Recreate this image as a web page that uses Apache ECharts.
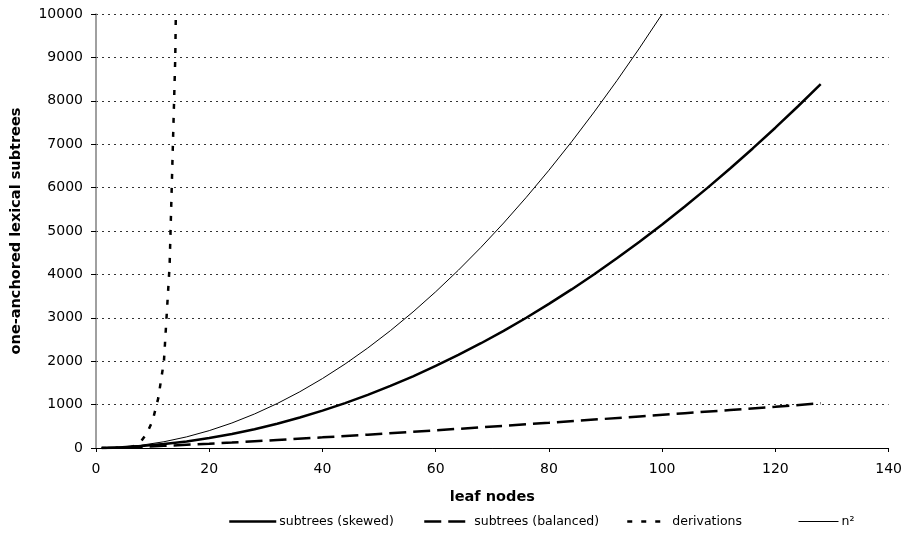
<!DOCTYPE html>
<html>
<head>
<meta charset="utf-8">
<script src="https://cdn.jsdelivr.net/npm/echarts@6/dist/echarts.min.js"></script>
<style>
  html, body { margin: 0; padding: 0; background: #fff; }
  #chart { width: 905px; height: 540px; }
</style>
</head>
<body>
<div id="chart"></div>
<script>
// Number of one-anchored lexical subtrees against the number of leaf nodes.
const skewedLeaves = [1, 2, 4, 8, 12, 16, 20, 24, 28, 32, 36, 40, 44, 48, 52, 56, 60, 64, 68, 72, 76, 80, 84, 88, 92, 96, 100, 104, 108, 112, 116, 120, 124, 128];
const skewedValues = [2, 5, 14, 44, 90, 152, 230, 324, 434, 560, 702, 860, 1034, 1224, 1430, 1652, 1890, 2144, 2414, 2700, 3002, 3320, 3654, 4004, 4370, 4752, 5150, 5564, 5994, 6440, 6902, 7380, 7874, 8384];

const balancedLeaves = [1, 2, 4, 8, 12, 16, 20, 24, 28, 32, 40, 48, 56, 64, 72, 80, 88, 96, 104, 112, 120, 128];
const balancedValues = [0, 2, 9, 28, 50, 74, 99, 126, 155, 184, 245, 307, 373, 442, 511, 582, 654, 727, 801, 876, 951, 1030];

const derivLeaves = [1, 2, 3, 4, 5, 6, 7, 8, 9, 10, 11, 12, 13, 14, 15];
const derivValues = [1, 1, 2, 4, 8, 15, 60, 160, 340, 630, 1150, 2000, 4200, 9000, 19000];

const squareLeaves = [1, 2, 4, 8, 12, 16, 20, 24, 28, 32, 36, 40, 44, 48, 52, 56, 60, 64, 68, 72, 76, 80, 84, 88, 92, 96, 100];
const squareValues = [1, 4, 16, 64, 144, 256, 400, 576, 784, 1024, 1296, 1600, 1936, 2304, 2704, 3136, 3600, 4096, 4624, 5184, 5776, 6400, 7056, 7744, 8464, 9216, 10000];

const xTicks = { min: 0, max: 140, step: 20 };
const yTicks = { min: 0, max: 10000, step: 1000 };

const seriesNames = ['subtrees (skewed)', 'subtrees (balanced)', 'derivations', 'n²'];

const pairs = (xs, ys) => xs.map((x, i) => [x, ys[i]]);

const FONT = 'DejaVu Sans, Verdana, sans-serif';

const chart = echarts.init(document.getElementById('chart'), null, { renderer: 'canvas' });

// One legend block per series so each key sits at its own spot.
function legendAt(name, left, width, lineWidth, dash) {
  return {
    data: [name],
    left: left,
    top: 515,
    itemWidth: width,
    itemHeight: 14,
    itemGap: 0,
    selectedMode: false,
    itemStyle: { color: 'rgba(0,0,0,0)', borderColor: 'rgba(0,0,0,0)', borderWidth: 0 },
    lineStyle: { color: '#000', width: lineWidth, type: dash },
    textStyle: { fontFamily: FONT, fontSize: 12.5, color: '#000', padding: [0, 0, 0, -2] },
    padding: 0
  };
}

const dashBalanced = [17, 7];
const dashDeriv = [5, 9];

chart.setOption({
  animation: false,
  backgroundColor: '#fff',
  grid: { left: 96, right: 15, top: 14, bottom: 92, containLabel: false },
  legend: [
    legendAt(seriesNames[0], 228, 47, 2.5, 'solid'),
    legendAt(seriesNames[1], 423, 47, 2.5, dashBalanced),
    legendAt(seriesNames[2], 626, 42, 2.5, dashDeriv),
    legendAt(seriesNames[3], 798, 40, 1, 'solid')
  ],
  xAxis: {
    type: 'value',
    min: xTicks.min,
    max: xTicks.max,
    interval: xTicks.step,
    name: 'leaf nodes',
    nameLocation: 'middle',
    nameGap: 42,
    nameTextStyle: { fontFamily: FONT, fontSize: 14.5, fontWeight: 'bold', color: '#000' },
    axisLine: { show: true, onZero: false, lineStyle: { color: '#000', width: 1 } },
    axisTick: { show: true, inside: false, length: 4, lineStyle: { color: '#000' } },
    axisLabel: { fontFamily: FONT, fontSize: 14, color: '#000', margin: 14 },
    splitLine: { show: false }
  },
  yAxis: {
    type: 'value',
    min: yTicks.min,
    max: yTicks.max,
    interval: yTicks.step,
    name: 'one-anchored lexical subtrees',
    nameLocation: 'middle',
    nameGap: 72,
    nameTextStyle: { fontFamily: FONT, fontSize: 14.5, fontWeight: 'bold', color: '#000' },
    axisLine: { show: true, lineStyle: { color: '#808080', width: 1.5 } },
    axisTick: { show: true, inside: false, length: 5, lineStyle: { color: '#000' } },
    axisLabel: { fontFamily: FONT, fontSize: 14, color: '#000', margin: 13, formatter: v => String(v) },
    splitLine: { show: true, lineStyle: { color: '#333', width: 1, type: [2, 4] } }
  },
  series: [
    {
      name: seriesNames[0], type: 'line', data: pairs(skewedLeaves, skewedValues),
      showSymbol: false, symbol: 'none', smooth: false, clip: true,
      lineStyle: { color: '#000', width: 2.5, type: 'solid' },
      itemStyle: { color: '#000' }, z: 4
    },
    {
      name: seriesNames[1], type: 'line', data: pairs(balancedLeaves, balancedValues),
      showSymbol: false, symbol: 'none', clip: true,
      lineStyle: { color: '#000', width: 2.5, type: dashBalanced },
      itemStyle: { color: '#000' }, z: 3
    },
    {
      name: seriesNames[2], type: 'line', data: pairs(derivLeaves, derivValues),
      showSymbol: false, symbol: 'none', clip: true,
      lineStyle: { color: '#000', width: 2.5, type: dashDeriv },
      itemStyle: { color: '#000' }, z: 3
    },
    {
      name: seriesNames[3], type: 'line', data: pairs(squareLeaves, squareValues),
      showSymbol: false, symbol: 'none', clip: true,
      lineStyle: { color: '#000', width: 1, type: 'solid' },
      itemStyle: { color: '#000' }, z: 2
    }
  ]
});
</script>
</body>
</html>
